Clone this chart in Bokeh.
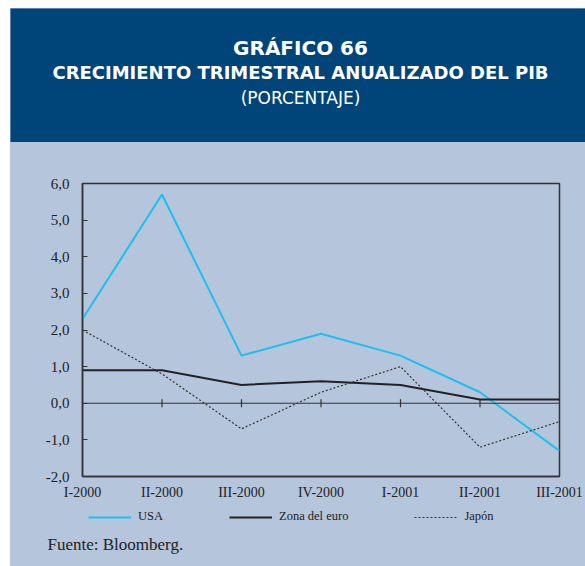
from bokeh.plotting import figure
from bokeh.layouts import column
from bokeh.models import Range1d, FixedTicker, Label, Span, Legend, LegendItem
from bokeh.embed import file_html
from bokeh.resources import INLINE

# ---------------- data ----------------
categories = ["I-2000", "II-2000", "III-2000", "IV-2000", "I-2001", "II-2001", "III-2001"]
usa = [2.3, 5.7, 1.3, 1.9, 1.3, 0.3, -1.3]
zona_euro = [0.9, 0.9, 0.5, 0.6, 0.5, 0.1, 0.1]
japon = [2.0, 0.8, -0.7, 0.3, 1.0, -1.2, -0.5]
y_ticks = [-2, -1, 0, 1, 2, 3, 4, 5, 6]
y_tick_labels = ["-2,0", "-1,0", "0,0", "1,0", "2,0", "3,0", "4,0", "5,0", "6,0"]
series_names = ["USA", "Zona del euro", "Japón"]
title_lines = ["GRÁFICO 66", "CRECIMIENTO TRIMESTRAL ANUALIZADO DEL PIB", "(PORCENTAJE)"]
source_note = "Fuente: Bloomberg."

# ---------------- style ----------------
HEADER_BG = "#00457a"
PANEL_BG = "#b5c5dc"
AXIS_C = "#333333"
USA_C = "#1ebff0"
EURO_C = "#222222"
JAP_C = "#333333"
SERIF = "Liberation Serif"
W = 575
HEADER_H = 134
CHART_H = 361
FOOT_H = 63
styles = [dict(line_color=USA_C, line_width=2),
          dict(line_color=EURO_C, line_width=2),
          dict(line_color=JAP_C, line_width=1.2, line_dash="2 2")]


def blank(height, bg):
    f = figure(width=W, height=height, x_range=Range1d(0, W), y_range=Range1d(height, 0),
               output_backend="svg", toolbar_location=None, x_axis_type=None, y_axis_type=None,
               min_border=0, background_fill_color=bg, border_fill_color=bg,
               outline_line_color=None)
    f.grid.visible = False
    f.frame_align = False
    return f


# ---------------- header ----------------
h = blank(HEADER_H, HEADER_BG)
title_y = [39, 64, 89]
title_sizes = ["20px", "18px", "17px"]
title_styles = ["bold", "bold", "normal"]
for t, yy, fs, st in zip(title_lines, title_y, title_sizes, title_styles):
    h.add_layout(Label(x=290, y=yy, text=t, text_align="center", text_baseline="middle",
                       text_font="DejaVu Sans", text_font_size=fs, text_font_style=st,
                       text_color="white"))

# ---------------- chart ----------------
xs = list(range(len(categories)))
p = figure(width=W, height=CHART_H, x_range=Range1d(xs[0], xs[-1]), y_range=Range1d(-2, 6),
           output_backend="svg", toolbar_location=None,
           min_border_left=72, min_border_right=26, min_border_top=41, min_border_bottom=27,
           background_fill_color=PANEL_BG, border_fill_color=PANEL_BG,
           outline_line_color=AXIS_C, outline_line_width=1.5)
p.grid.visible = False
p.frame_align = False

p.add_layout(Span(location=0, dimension="width", line_color=AXIS_C, line_width=1.2))
p.segment(x0=xs[1:-1], y0=[-0.11] * (len(xs) - 2), x1=xs[1:-1], y1=[0.11] * (len(xs) - 2),
          line_color=AXIS_C, line_width=1.2)

for vals, st in zip([usa, zona_euro, japon], styles):
    p.line(xs, vals, **st)

p.xaxis.ticker = FixedTicker(ticks=xs)
p.xaxis.major_label_overrides = {i: c for i, c in zip(xs, categories)}
p.xaxis.major_tick_in = 0
p.xaxis.major_tick_out = 0
p.xaxis.minor_tick_line_color = None
p.xaxis.major_label_standoff = 8
p.xaxis.major_label_text_font_size = "14px"
p.yaxis.ticker = FixedTicker(ticks=y_ticks)
p.yaxis.major_label_overrides = {v: l for v, l in zip(y_ticks, y_tick_labels)}
p.yaxis.major_tick_in = 5
p.yaxis.major_tick_out = 0
p.yaxis.minor_tick_line_color = None
p.yaxis.major_label_standoff = 13
p.yaxis.major_label_text_font_size = "15px"
for ax in (p.xaxis, p.yaxis):
    ax.axis_line_color = AXIS_C
    ax.axis_line_width = 1.5
    ax.major_tick_line_color = AXIS_C
    ax.major_label_text_font = SERIF
    ax.major_label_text_color = "#222222"

# ---------------- footer: legend + source ----------------
f = blank(FOOT_H, PANEL_BG)
nan = float("nan")
keys = [f.line(x=[nan], y=[nan], **st) for st in styles]
lg = Legend(items=[LegendItem(label=n, renderers=[r]) for n, r in zip(series_names, keys)],
            orientation="horizontal", location=(78, 42))
lg.padding = 0
lg.margin = 0
lg.spacing = 66
lg.glyph_width = 43
lg.glyph_height = 14
lg.label_height = 14
lg.label_standoff = 7
lg.label_text_font = SERIF
lg.label_text_font_size = "12.5px"
lg.label_text_color = "#222222"
lg.background_fill_alpha = 0
lg.border_line_color = None
f.add_layout(lg)
f.add_layout(Label(x=37, y=41, text=source_note, text_baseline="middle",
                   text_font=SERIF, text_font_size="17px", text_color="#222222"))

layout = column(h, p, f, spacing=0, margin=(8, 0, 0, 10),
                styles={"background-color": PANEL_BG})
open("out.html", "w").write(file_html(layout, INLINE))
